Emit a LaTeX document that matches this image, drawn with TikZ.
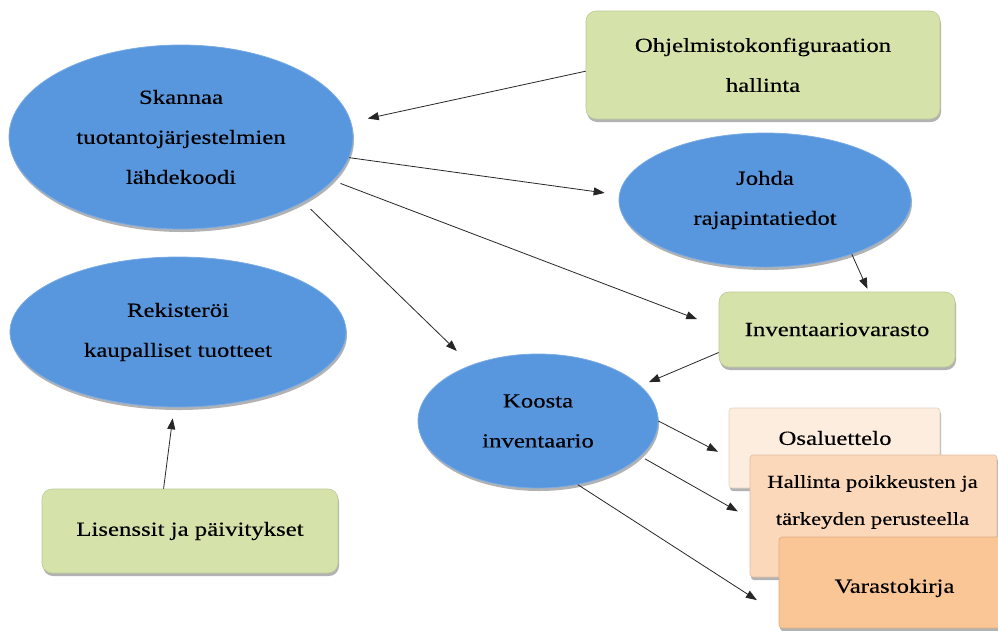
\documentclass[tikz,border=0pt]{standalone}
\usepackage{fontspec}
\setmainfont{Liberation Serif}[FakeStretch=1.24,FakeBold=0.3]
\usetikzlibrary{shapes.geometric,arrows.meta,shadows}
\definecolor{ellblue}{RGB}{88,150,221}
\definecolor{boxgreen}{RGB}{213,227,170}
\definecolor{peachA}{RGB}{253,237,223}
\definecolor{peachB}{RGB}{252,216,186}
\definecolor{peachC}{RGB}{250,198,150}
\begin{document}
\begin{tikzpicture}[x=1pt,y=-1pt,
  every node/.style={font=\fontsize{20}{40}\selectfont, align=center, text=black},
  softshadow/.style={drop shadow={shadow xshift=1pt,shadow yshift=-3pt,opacity=0.3,fill=black}},
  oval/.style={ellipse, inner sep=0pt, fill=ellblue, draw=ellblue!80!white, line width=0.8pt, softshadow},
  gbox/.style={rectangle, rounded corners=10pt, inner sep=0pt, fill=boxgreen, draw=boxgreen!88!black, line width=0.6pt, softshadow},
  obox/.style={rectangle, rounded corners=3pt, inner sep=0pt, draw=#1!88!black, fill=#1, line width=0.6pt, softshadow},
  plain/.style={inner sep=0pt},
  link/.style={draw=black!85, line width=0.8pt, -{Triangle[length=11pt,width=8pt]}}
]
\useasboundingbox (0,0) rectangle (998,630);

% ellipses
\node[oval, minimum width=344pt, minimum height=184pt] (skan) at (181,137) {Skannaa\\tuotantojärjestelmien\\lähdekoodi};
\node[oval, minimum width=336pt, minimum height=150pt] (rek) at (178,332) {Rekisteröi\\kaupalliset tuotteet};
\node[oval, minimum width=292pt, minimum height=134pt] (johda) at (765,200) {Johda\\rajapintatiedot};
\node[oval, minimum width=240pt, minimum height=134pt] (koosta) at (538,421) {Koosta\\inventaario};

% green boxes
\node[gbox, minimum width=354pt, minimum height=108pt] (ohj) at (763,65) {Ohjelmistokonfiguraation\\hallinta};
\node[gbox, minimum width=236pt, minimum height=75pt] (inv) at (837,329.5) {Inventaariovarasto};
\node[gbox, minimum width=296pt, minimum height=84pt] (lis) at (190,531) {Lisenssit ja päivitykset};

% stacked document boxes
\node[obox=peachA, minimum width=211pt, minimum height=80pt] (osa) at (834.5,448) {};
\node[plain] (osat) at (835,438) {Osaluettelo};
\node[obox=peachB, minimum width=247pt, minimum height=122pt] (hal) at (873.5,516) {};
\node[plain, font=\fontsize{18.3}{37}\selectfont] (halt) at (872.5,502) {Hallinta poikkeusten ja\\tärkeyden perusteella};
\node[obox=peachC, minimum width=236pt, minimum height=91pt] (var) at (897,582.5) {};
\node[plain] (vart) at (894.5,588) {Varastokirja};

% connectors
\draw[link, shorten >=17pt] (ohj.182.6) -- (skan.5.2);
\draw[link, shorten >=14.5pt] (skan.-7) -- (johda.178);
\draw[link, shorten <=8pt, shorten >=23pt] (skan.-16.8) -- (inv.179);
\draw[link, shorten <=10pt, shorten >=20pt] (skan.-28.9) -- (koosta.140.7);
\draw[link, shorten >=3pt] (johda.-32.2) -- (inv.50.1);
\draw[link, shorten >=9pt] (inv.191.2) -- (koosta.19.8);
\draw[link, shorten >=12pt] (koosta.-0.5) -- (osa.185);
\draw[link, shorten <=5pt, shorten >=13.7pt] (koosta.-19.1) -- (hal.181.25);
\draw[link, shorten >=26pt] (koosta.-58) -- (var.195.85);
\draw[link, shorten >=11pt] (lis.122.7) -- (rek.-93.5);
\end{tikzpicture}
\end{document}
